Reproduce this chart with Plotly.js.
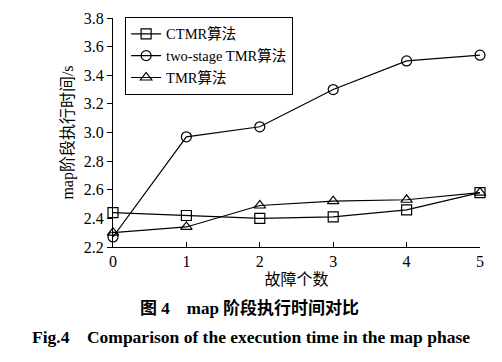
<!DOCTYPE html>
<html><head><meta charset="utf-8">
<script src="https://cdn.plot.ly/plotly-3.0.1.min.js"></script>
<style>body{margin:0;background:#fff}#c{width:502px;height:362px}</style>
</head><body><div id="c"></div>
<script>
const faults = [0, 1, 2, 3, 4, 5];
const ctmr = [2.44, 2.42, 2.40, 2.41, 2.46, 2.58];
const twoStage = [2.27, 2.97, 3.04, 3.30, 3.50, 3.54];
const tmr = [2.30, 2.34, 2.49, 2.52, 2.53, 2.58];
const names = ['CTMR算法', 'two-stage TMR算法', 'TMR算法'];
const yTicks = [2.2, 2.4, 2.6, 2.8, 3.0, 3.2, 3.4, 3.6, 3.8];

const F = 'Liberation Serif, Times New Roman, Noto Sans CJK SC, serif';
function tr(y, name, sym) {
  return {x: faults, y: y, name: name, mode: 'lines+markers', cliponaxis: false,
    line: {color: '#000', width: 1.2},
    marker: {symbol: sym, size: 10, color: '#000', line: {color: '#000', width: 1.2}}};
}
const data = [tr(ctmr, names[0], 'square-open'), tr(twoStage, names[1], 'circle-open'), tr(tmr, names[2], 'triangle-up-open')];
const layout = {
  width: 502, height: 362,
  margin: {l: 113, r: 22, t: 18, b: 115},
  paper_bgcolor: '#fff', plot_bgcolor: '#fff',
  font: {family: F, size: 16, color: '#000'},
  showlegend: true,
  legend: {x: 0.033, y: 1.005, xanchor: 'left', yanchor: 'top', bordercolor: '#000', borderwidth: 1,
    bgcolor: '#fff', font: {family: F, size: 14.5}, tracegroupgap: 0, itemwidth: 30},
  xaxis: {range: [0, 5], tickvals: faults, ticks: 'inside', ticklen: 5, tickwidth: 1, tickcolor: '#000',
    showline: true, linecolor: '#000', linewidth: 1, showgrid: false, zeroline: false,
    tickfont: {family: F, size: 16}, ticklabelstandoff: 0,
    title: {text: '故障个数', font: {family: F, size: 16}, standoff: 4}},
  yaxis: {range: [2.2, 3.8], tickvals: yTicks, ticktext: yTicks.map(v => v.toFixed(1)), ticks: 'outside', ticklen: 5,
    tickwidth: 1, tickcolor: '#000', showline: true, linecolor: '#000', linewidth: 1, showgrid: false, zeroline: false,
    tickfont: {family: F, size: 16},
    title: {text: 'map阶段执行时间/s', font: {family: F, size: 16}, standoff: 6}},
  annotations: [
    {text: '<b>图 4　map 阶段执行时间对比</b>', xref: 'paper', yref: 'paper', x: (249 - 113) / 367, y: (247 - 308) / 229,
      xanchor: 'center', yanchor: 'middle', showarrow: false, font: {family: F, size: 17}},
    {text: '<b>Fig.4　Comparison of the execution time in the map phase</b>', xref: 'paper', yref: 'paper',
      x: (251 - 113) / 367, y: (247 - 337) / 229, xanchor: 'center', yanchor: 'middle', showarrow: false,
      font: {family: F, size: 17.5}}
  ]
};
Plotly.newPlot('c', data, layout, {displayModeBar: false});
</script></body></html>
